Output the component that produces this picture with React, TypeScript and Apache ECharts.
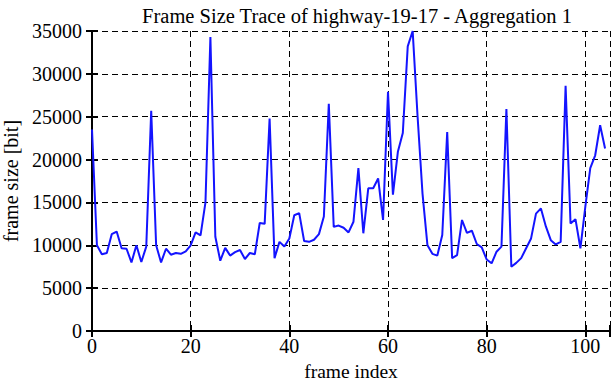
import React, { useEffect, useRef } from "react";
import * as echarts from "echarts";

const frameSizes: number[] = [
  23500, 10000, 8950, 9100, 11300, 11600, 9650, 9600, 8000, 10000,
  8050, 9850, 25700, 10000, 8000, 9600, 8900, 9100, 9000, 9300,
  10000, 11500, 11150, 15000, 34300, 11000, 8200, 9700, 8800, 9200,
  9450, 8400, 9100, 8950, 12600, 12500, 24800, 8500, 10400, 9850,
  10800, 13500, 13750, 10500, 10400, 10650, 11300, 13350, 26500, 12150,
  12300, 12050, 11500, 12750, 19000, 11400, 16650, 16650, 17800, 12950,
  27900, 15900, 20900, 23100, 33200, 35000, 25000, 16000, 10000, 9000,
  8800, 11200, 23200, 8500, 8850, 12950, 11450, 11700, 10150, 9750,
  8350, 7900, 9250, 9850, 25900, 7500, 7950, 8500, 9650, 10800,
  13700, 14300, 12200, 10600, 10100, 10400, 28600, 12550, 13050, 9650,
  14500, 19000, 20500, 24000, 21300,
];
const frameIndex: number[] = frameSizes.map((_, i) => i);

const titleText = "Frame Size Trace of highway-19-17 - Aggregation 1";
const xName = "frame index";
const yName = "frame size [bit]";

const FONT = "'Liberation Serif', 'DejaVu Serif', serif";

export default function App() {
  const ref = useRef<HTMLDivElement>(null);
  useEffect(() => {
    if (!ref.current) return;
    const chart = echarts.init(ref.current, undefined, { renderer: "svg" });
    const dashed = { show: true, lineStyle: { color: "#000", width: 1, type: [6, 4] as any } };
    const axisBase = {
      axisLine: { show: true, lineStyle: { color: "#000", width: 2 } },
      axisTick: { show: true, inside: true, length: 6, lineStyle: { color: "#000", width: 2 } },
    };
    chart.setOption({
      animation: false,
      backgroundColor: "#fff",
      title: {
        text: titleText,
        left: 352,
        textAlign: "center",
        top: 0,
        textStyle: { fontFamily: FONT, fontSize: 20.5, fontWeight: "normal", color: "#000" },
      },
      grid: {
        left: 92,
        right: 2,
        top: 31,
        bottom: 51,
        containLabel: false,
        outerBoundsMode: "none",
      } as any,
      xAxis: [
        {
          type: "value",
          min: 0,
          max: 105,
          interval: 20,
          position: "bottom",
          ...axisBase,
          axisLabel: {
            show: true,
            margin: 5,
            fontFamily: FONT,
            fontSize: 20,
            color: "#000",
            formatter: (v: number) => (v % 20 === 0 ? String(v) : ""),
          },
          splitLine: dashed,
          name: xName,
          nameLocation: "middle",
          nameGap: 30,
          nameTextStyle: { fontFamily: FONT, fontSize: 19.5, color: "#000" },
        },
        {
          type: "value",
          min: 0,
          max: 105,
          interval: 20,
          position: "top",
          ...axisBase,
          axisLabel: { show: false },
          splitLine: { show: false },
        },
      ],
      yAxis: [
        {
          type: "value",
          min: 0,
          max: 35000,
          interval: 5000,
          position: "left",
          ...axisBase,
          axisLabel: {
            show: true,
            margin: 10,
            fontFamily: FONT,
            fontSize: 20,
            color: "#000",
            formatter: (v: number) => String(v),
          },
          splitLine: dashed,
          name: yName,
          nameLocation: "middle",
          nameGap: 69,
          nameTextStyle: { fontFamily: FONT, fontSize: 20, color: "#000" },
        },
        {
          type: "value",
          min: 0,
          max: 35000,
          interval: 5000,
          position: "right",
          ...axisBase,
          axisLabel: { show: false },
          splitLine: { show: false },
        },
      ],
      series: [
        {
          type: "line",
          data: frameIndex.map((x, i) => [x, frameSizes[i]]),
          showSymbol: false,
          symbol: "none",
          clip: false,
          lineStyle: { color: "#1414ff", width: 2 },
          itemStyle: { color: "#1414ff" },
        },
      ],
    });
    return () => chart.dispose();
  }, []);
  return (
    <div
      ref={ref}
      style={{ position: "fixed", left: 0, top: 0, width: 612, height: 382, background: "#fff" }}
    />
  );
}
